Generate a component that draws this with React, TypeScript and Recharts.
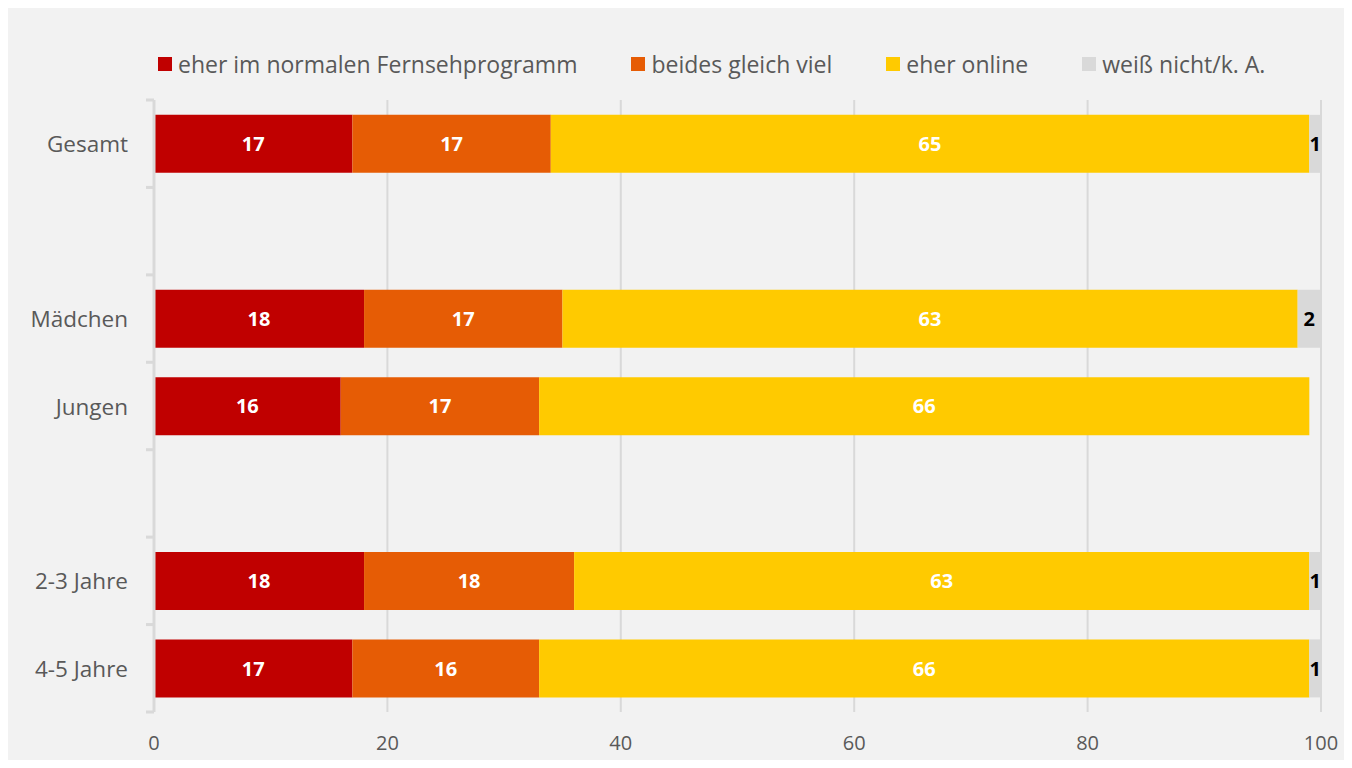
import React from "react";
import {
  BarChart,
  Bar,
  XAxis,
  YAxis,
  CartesianGrid,
  LabelList,
} from "recharts";

// Kategorien (leere Einträge sind Abstandhalter zwischen den Gruppen)
const categories = ["Gesamt", "", "Mädchen", "Jungen", "", "2-3 Jahre", "4-5 Jahre"];

const tvValues = [17, null, 18, 16, null, 18, 17];
const bothValues = [17, null, 17, 17, null, 18, 16];
const onlineValues = [65, null, 63, 66, null, 63, 66];
const unknownValues = [1, null, 2, null, null, 1, 1];

const xTicks = [0, 20, 40, 60, 80, 100];

const seriesNames = [
  "eher im normalen Fernsehprogramm",
  "beides gleich viel",
  "eher online",
  "weiß nicht/k. A.",
];
const seriesColors = ["#c00000", "#e65c05", "#ffca00", "#d9d9d9"];

const data = categories.map((name, i) => ({
  key: `${i}`,
  name,
  tv: tvValues[i],
  both: bothValues[i],
  online: onlineValues[i],
  unknown: unknownValues[i],
}));

const WIDTH = 1336;
const HEIGHT = 752;
const MARGIN = { top: 92, right: 23, bottom: 18, left: 0 };
const X_AXIS_HEIGHT = 30;
const PLOT_HEIGHT = HEIGHT - MARGIN.top - MARGIN.bottom - X_AXIS_HEIGHT;
const FONT = "'Open Sans', sans-serif";
const TEXT = "#595959";
const GRID = "#d9d9d9";

function CategoryTick(props: any) {
  const { x, y, payload, index } = props;
  const step = PLOT_HEIGHT / categories.length;
  return (
    <g>
      <line x1={x - 8} x2={x} y1={y - step / 2} y2={y - step / 2} stroke={GRID} strokeWidth={3} />
      {index === categories.length - 1 && (
        <line x1={x - 8} x2={x} y1={y + step / 2} y2={y + step / 2} stroke={GRID} strokeWidth={3} />
      )}
      <text
        x={x - 26}
        y={y}
        textAnchor="end"
        dominantBaseline="central"
        fill={TEXT}
        fontSize={22.5}
        fontFamily={FONT}
      >
        {payload.value}
      </text>
    </g>
  );
}

function ChartLegend() {
  return (
    <div
      style={{
        position: "absolute",
        top: 41,
        left: 150,
        display: "flex",
        gap: 54,
        fontFamily: FONT,
        fontSize: 23,
        color: TEXT,
        lineHeight: "30px",
      }}
    >
      {seriesNames.map((n, i) => (
        <div key={n} style={{ display: "flex", alignItems: "center" }}>
          <span
            style={{ width: 14, height: 14, background: seriesColors[i], marginRight: 6, display: "inline-block" }}
          />
          <span>{n}</span>
        </div>
      ))}
    </div>
  );
}

const labelStyle = { fontFamily: FONT, fontWeight: 700, fontSize: 20 };

export default function App() {
  return (
    <div style={{ position: "relative", width: WIDTH, height: HEIGHT, background: "#f2f2f2" }}>
      <BarChart width={WIDTH} height={HEIGHT} data={data} layout="vertical" margin={MARGIN} barCategoryGap="17%">
        <CartesianGrid horizontal={false} stroke={GRID} strokeWidth={2} />
        <XAxis
          type="number"
          domain={[0, 100]}
          ticks={xTicks}
          axisLine={false}
          tickLine={false}
          tickSize={0}
          tickMargin={24}
          height={X_AXIS_HEIGHT}
          tick={{ fill: TEXT, fontSize: 20, fontFamily: FONT }}
        />
        <YAxis
          type="category"
          dataKey="name"
          width={146}
          interval={0}
          axisLine={{ stroke: GRID, strokeWidth: 3 }}
          tickLine={false}
          tickSize={0}
          tickMargin={0}
          tick={<CategoryTick />}
        />
        <Bar dataKey="tv" stackId="a" fill={seriesColors[0]} isAnimationActive={false}>
          <LabelList dataKey="tv" position="center" fill="#ffffff" style={labelStyle} />
        </Bar>
        <Bar dataKey="both" stackId="a" fill={seriesColors[1]} isAnimationActive={false}>
          <LabelList dataKey="both" position="center" fill="#ffffff" style={labelStyle} />
        </Bar>
        <Bar dataKey="online" stackId="a" fill={seriesColors[2]} isAnimationActive={false}>
          <LabelList dataKey="online" position="center" fill="#ffffff" style={labelStyle} />
        </Bar>
        <Bar dataKey="unknown" stackId="a" fill={seriesColors[3]} isAnimationActive={false}>
          <LabelList dataKey="unknown" position="center" fill="#000000" style={labelStyle} />
        </Bar>
      </BarChart>
      <ChartLegend />
    </div>
  );
}
